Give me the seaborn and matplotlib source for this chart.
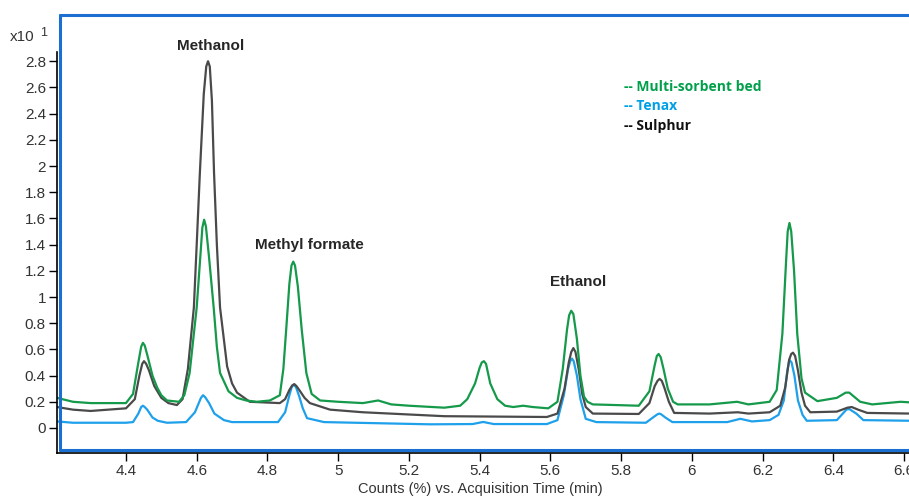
"""
Chromatogram: Multi-sorbent bed vs Tenax vs Sulphur traces.
"""

import matplotlib
matplotlib.use("Agg")
import matplotlib.pyplot as plt
from matplotlib.lines import Line2D
import seaborn as sns
import pandas as pd

# --- data (time in min, counts in x10^1 %) ---

green_t = [4.205, 4.25, 4.30, 4.40, 4.42, 4.435, 4.443, 4.448, 4.453, 4.46, 4.475, 4.488,
           4.50, 4.516, 4.55, 4.565, 4.58, 4.60, 4.61, 4.616, 4.621, 4.626, 4.635, 4.648,
           4.657, 4.666, 4.69, 4.714, 4.74, 4.77, 4.807, 4.835, 4.845, 4.853, 4.862, 4.868,
           4.873, 4.878, 4.886, 4.897, 4.91, 4.925, 4.949, 5.00, 5.07, 5.113, 5.15, 5.20,
           5.30, 5.345, 5.365, 5.387, 5.40, 5.406, 5.412, 5.418, 5.43, 5.45, 5.472, 5.495,
           5.523, 5.55, 5.594, 5.62, 5.635, 5.647, 5.653, 5.659, 5.665, 5.675, 5.685, 5.695,
           5.705, 5.72, 5.85, 5.88, 5.895, 5.901, 5.906, 5.912, 5.92, 5.932, 5.947, 5.96,
           6.05, 6.128, 6.16, 6.22, 6.24, 6.256, 6.266, 6.271, 6.276, 6.281, 6.289, 6.298,
           6.31, 6.32, 6.355, 6.41, 6.435, 6.445, 6.476, 6.51, 6.59, 6.62]
green_y = [0.23, 0.20, 0.19, 0.19, 0.26, 0.50, 0.62, 0.65, 0.63, 0.56, 0.40, 0.31,
           0.25, 0.21, 0.20, 0.25, 0.42, 0.92, 1.30, 1.53, 1.59, 1.54, 1.30, 0.92,
           0.62, 0.42, 0.28, 0.23, 0.21, 0.20, 0.21, 0.25, 0.45, 0.75, 1.10, 1.24,
           1.27, 1.24, 1.08, 0.75, 0.42, 0.26, 0.21, 0.20, 0.19, 0.21, 0.18, 0.17,
           0.155, 0.17, 0.22, 0.34, 0.46, 0.50, 0.51, 0.49, 0.34, 0.22, 0.17, 0.16,
           0.17, 0.16, 0.15, 0.20, 0.45, 0.75, 0.86, 0.895, 0.87, 0.68, 0.40, 0.24,
           0.20, 0.18, 0.17, 0.28, 0.48, 0.55, 0.565, 0.54, 0.45, 0.30, 0.20, 0.18,
           0.18, 0.20, 0.18, 0.20, 0.29, 0.72, 1.25, 1.50, 1.565, 1.50, 1.20, 0.72,
           0.38, 0.27, 0.205, 0.23, 0.27, 0.27, 0.20, 0.18, 0.20, 0.195]

sulphur_t = [4.205, 4.25, 4.30, 4.40, 4.425, 4.438, 4.446, 4.451, 4.457, 4.465, 4.48, 4.50,
             4.52, 4.544, 4.56, 4.575, 4.592, 4.60, 4.609, 4.62, 4.627, 4.632, 4.637, 4.643,
             4.649, 4.657, 4.666, 4.686, 4.70, 4.714, 4.75, 4.835, 4.85, 4.862, 4.87, 4.876,
             4.882, 4.89, 4.905, 4.92, 4.977, 5.07, 5.30, 5.59, 5.62, 5.64, 5.652, 5.659,
             5.665, 5.671, 5.68, 5.69, 5.70, 5.72, 5.85, 5.88, 5.895, 5.903, 5.909, 5.915,
             5.922, 5.935, 5.95, 6.05, 6.13, 6.16, 6.22, 6.25, 6.264, 6.275, 6.281, 6.286,
             6.292, 6.3, 6.31, 6.32, 6.335, 6.41, 6.44, 6.452, 6.47, 6.496, 6.62]
sulphur_y = [0.16, 0.14, 0.13, 0.15, 0.22, 0.40, 0.49, 0.51, 0.49, 0.44, 0.32, 0.23,
             0.19, 0.175, 0.22, 0.45, 0.92, 1.40, 1.95, 2.55, 2.76, 2.80, 2.76, 2.50,
             1.95, 1.40, 0.92, 0.47, 0.34, 0.27, 0.20, 0.19, 0.22, 0.29, 0.325, 0.335,
             0.32, 0.29, 0.23, 0.19, 0.14, 0.12, 0.09, 0.084, 0.11, 0.30, 0.50, 0.58,
             0.61, 0.58, 0.45, 0.26, 0.16, 0.11, 0.107, 0.19, 0.32, 0.36, 0.375, 0.36,
             0.31, 0.20, 0.115, 0.11, 0.12, 0.11, 0.12, 0.17, 0.31, 0.52, 0.565, 0.575,
             0.55, 0.44, 0.27, 0.17, 0.12, 0.125, 0.155, 0.16, 0.14, 0.115, 0.11]

tenax_t = [4.205, 4.25, 4.40, 4.42, 4.435, 4.443, 4.448, 4.453, 4.46, 4.475, 4.49, 4.516,
           4.57, 4.595, 4.612, 4.618, 4.624, 4.635, 4.65, 4.677, 4.70, 4.83, 4.85, 4.862,
           4.869, 4.875, 4.881, 4.89, 4.90, 4.912, 4.96, 5.26, 5.38, 5.41, 5.44, 5.59,
           5.62, 5.638, 5.65, 5.656, 5.661, 5.666, 5.675, 5.685, 5.70, 5.73, 5.87, 5.89,
           5.903, 5.908, 5.913, 5.925, 5.945, 6.10, 6.137, 6.17, 6.22, 6.245, 6.26, 6.27,
           6.276, 6.282, 6.29, 6.30, 6.313, 6.325, 6.41, 6.437, 6.445, 6.465, 6.485, 6.62]
tenax_y = [0.05, 0.04, 0.04, 0.045, 0.11, 0.16, 0.17, 0.16, 0.14, 0.08, 0.055, 0.04,
           0.045, 0.12, 0.23, 0.25, 0.235, 0.19, 0.11, 0.06, 0.045, 0.045, 0.12, 0.25,
           0.315, 0.33, 0.31, 0.24, 0.15, 0.075, 0.045, 0.028, 0.03, 0.046, 0.03, 0.03,
           0.06, 0.25, 0.45, 0.51, 0.53, 0.51, 0.40, 0.22, 0.07, 0.045, 0.04, 0.08,
           0.105, 0.11, 0.105, 0.08, 0.045, 0.045, 0.07, 0.05, 0.06, 0.10, 0.21, 0.44,
           0.52, 0.50, 0.40, 0.21, 0.10, 0.055, 0.06, 0.14, 0.145, 0.11, 0.06, 0.055]

peak_names = ["Methanol", "Methyl formate", "Ethanol"]
peak_label_x = [4.638, 4.918, 5.678]
peak_label_y = [2.92, 1.40, 1.115]

legend_names = ["-- Multi-sorbent bed", "-- Tenax", "-- Sulphur"]
legend_colors = ["#00a04a", "#00a0e6", "#111111"]

y_ticks = [0, 0.2, 0.4, 0.6, 0.8, 1, 1.2, 1.4, 1.6, 1.8, 2, 2.2, 2.4, 2.6, 2.8]
x_ticks = [4.4, 4.6, 4.8, 5, 5.2, 5.4, 5.6, 5.8, 6, 6.2, 6.4, 6.6]

sns.set_style("white")
plt.rcParams["font.family"] = ["Liberation Sans", "DejaVu Sans"]

W, H = 909, 499
fig = plt.figure(figsize=(W / 100, H / 100), dpi=100)
ax = fig.add_axes([57 / W, (H - 453) / H, 1 - 57 / W, (453 - 15) / H])

traces = pd.concat([
    pd.DataFrame({"t": tenax_t, "y": tenax_y, "s": "Tenax"}),
    pd.DataFrame({"t": sulphur_t, "y": sulphur_y, "s": "Sulphur"}),
    pd.DataFrame({"t": green_t, "y": green_y, "s": "Multi-sorbent bed"}),
])
line_colors = {"Tenax": "#1ea0ea", "Sulphur": "#4a4a4a", "Multi-sorbent bed": "#15994a"}
for name in ["Tenax", "Sulphur", "Multi-sorbent bed"]:
    d = traces[traces["s"] == name]
    sns.lineplot(data=d, x="t", y="y", ax=ax, color=line_colors[name],
                 lw=1.6, estimator=None, sort=False)

ax.set_xlim(4.205, 6.614)
ax.set_ylim(-0.191, 3.153)
ax.set_yticks(y_ticks)
ax.set_yticklabels([f"{v:g}" for v in y_ticks])
ax.set_xticks(x_ticks)
ax.set_xticklabels([f"{v:g}" for v in x_ticks])
ax.tick_params(axis="both", direction="out", length=6, width=1, color="black",
               labelsize=11, labelcolor="#333333", pad=2, left=True, bottom=True)
ax.set_xlabel("Counts (%) vs. Acquisition Time (min)", fontsize=10.5, color="#333333")
ax.xaxis.set_label_coords((480 - 57) / (W - 57), -0.066)
ax.set_ylabel("")
for side in ["top", "right"]:
    ax.spines[side].set_visible(False)
ax.spines["left"].set_color("black")
ax.spines["left"].set_linewidth(1.2)
ax.spines["left"].set_bounds(-0.191, 2.87)
ax.spines["bottom"].set_color("black")
ax.spines["bottom"].set_linewidth(1.2)

# blue frame of the data window
blue = "#1a6fd0"
fx = lambda px: px / W
fy = lambda py: 1 - py / H
fig.add_artist(Line2D([fx(59.5), fx(59.5)], [fy(15), fy(450)], color=blue, lw=2.2))
fig.add_artist(Line2D([fx(59.5), 1.0], [fy(15), fy(15)], color=blue, lw=2.2))
fig.add_artist(Line2D([fx(59.5), 1.0], [fy(450), fy(450)], color=blue, lw=2.2))

fig.text(fx(10), fy(37), "x10", fontsize=11, color="#333333", va="center")
fig.text(fx(40), fy(33), "1", fontsize=9, color="#333333", va="center")

for name, px_, py_ in zip(peak_names, peak_label_x, peak_label_y):
    ax.text(px_, py_, name, ha="center", va="center", fontsize=11, fontweight="bold")

for i, (name, c) in enumerate(zip(legend_names, legend_colors)):
    fig.text(fx(624), fy(87 + i * 19.5), name, color=c, fontsize=10, fontweight="bold",
             va="center", family=["Open Sans", "DejaVu Sans"])

fig.savefig("out.png", dpi=100)
